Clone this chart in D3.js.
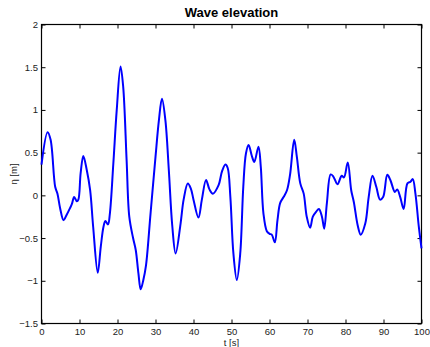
<!DOCTYPE html>
<html>
<head>
  <meta charset="UTF-8">
  <style>
    body { margin: 0; background: #fff; }
    text { font-family: "Liberation Sans", Arial, sans-serif; }
  </style>
</head>
<body>
<svg></svg>
<script src="https://d3js.org/d3.v7.min.js"></script>
<script>
let width = 430, height = 347;

// wave elevation samples
var time = [0, 1.6, 2.4, 3.6, 4.2, 4.9, 5.8, 6.6, 7.5, 8, 8.6, 9.3, 9.7, 10.3, 11.0, 11.9, 12.8, 13.6, 14.8, 15.6,
  16.3, 16.8, 17.5, 18.0, 18.9, 19.8, 20.8, 21.5, 22.4, 23.1, 24.1, 24.8, 25.5, 26.1, 26.8, 27.5, 28.7, 30, 30.9,
  31.7, 32.6, 33.5, 34.4, 35.3, 36.6, 37.4, 38.5, 39.3, 40.0, 41.3, 42.2, 43.3, 44.2, 45.1, 46.6, 47.5, 48.4, 49,
  49.7, 50.5, 51.4, 52.3, 53.1, 53.8, 54.5, 55.3, 56.0, 57.1, 57.7, 58.4, 59.3, 60, 60.6, 61.4, 62.1, 62.8, 63.7,
  64.6, 65.4, 66.5, 67.2, 68.1, 69, 69.8, 70.7, 71.4, 72.3, 73.0, 73.8, 74.4, 75.1, 76.1, 76.8, 77.9, 79.0, 79.6,
  80.6, 81.5, 82.2, 83.2, 84.0, 85.2, 86.1, 87.1, 88.1, 89.1, 89.9, 91.0, 91.8, 93.0, 93.6, 94.4, 95.3, 96.3, 97.1,
  97.7, 98.4, 99.3, 100];
var eta = [0.36, 0.74, 0.65, 0.10, 0.02, -0.15, -0.29, -0.23, -0.15, -0.1, -0.02, -0.07, -0.05, 0.26, 0.46, 0.30, 0.06, -0.37, -0.906, -0.60,
  -0.37, -0.30, -0.34, -0.21, 0.37, 1.0, 1.508, 1.27, 0.41, -0.25, -0.50, -0.64, -0.91, -1.10, -0.99, -0.82, -0.21, 0.45, 0.88,
  1.13, 0.88, 0.30, -0.35, -0.68, -0.33, -0.05, 0.14, 0.08, -0.05, -0.26, -0.05, 0.18, 0.07, 0.02, 0.12, 0.28, 0.36, 0.32,
  -0.02, -0.68, -0.99, -0.68, 0.10, 0.49, 0.59, 0.47, 0.39, 0.57, 0.34, -0.21, -0.42, -0.45, -0.46, -0.55, -0.29, -0.09, -0.02,
  0.06, 0.24, 0.65, 0.45, 0.14, 0.02, -0.25, -0.38, -0.25, -0.19, -0.16, -0.25, -0.39, -0.09, 0.245, 0.22, 0.13, 0.23, 0.21,
  0.385, 0.06, -0.08, -0.35, -0.46, -0.33, -0.02, 0.23, 0.10, -0.05, -0.02, 0.24, 0.18, 0.04, 0.07, -0.02, -0.16, 0.14, 0.16,
  0.19, 0.02, -0.37, -0.62];
var xTicks = [0, 10, 20, 30, 40, 50, 60, 70, 80, 90, 100];
var yTicks = [-1.5, -1, -0.5, 0, 0.5, 1, 1.5, 2];

let svg = d3.select("svg")
    .attr("width", width)
    .attr("height", height);

let plotLeft = 41.5, plotRight = 421.5, plotTop = 24.5, plotBottom = 323.5;

var x = d3.scaleLinear().domain([0, 100]).range([plotLeft, plotRight]);
var y = d3.scaleLinear().domain([-1.5, 2]).range([plotBottom, plotTop]);

var fmt = d => String(d).replace("-", "\u2212");

// ticks on all four sides, pointing inward
svg.append("g")
    .attr("transform", "translate(0," + plotBottom + ")")
    .call(d3.axisBottom(x).tickValues(xTicks).tickSizeInner(-4).tickSizeOuter(0).tickPadding(4.5).tickFormat(fmt));
svg.append("g")
    .attr("transform", "translate(0," + plotTop + ")")
    .call(d3.axisTop(x).tickValues(xTicks).tickSizeInner(-4).tickSizeOuter(0).tickFormat(""));
svg.append("g")
    .attr("transform", "translate(" + plotLeft + ",0)")
    .call(d3.axisLeft(y).tickValues(yTicks).tickSizeInner(-4).tickSizeOuter(0).tickPadding(3.5).tickFormat(fmt));
svg.append("g")
    .attr("transform", "translate(" + plotRight + ",0)")
    .call(d3.axisRight(y).tickValues(yTicks).tickSizeInner(-4).tickSizeOuter(0).tickFormat(""));

svg.selectAll(".domain").remove();
svg.selectAll(".tick line").attr("stroke", "#000");
svg.selectAll(".tick text").attr("font-size", 9.5).attr("fill", "#222")
    .attr("font-family", "'Liberation Sans', Arial, sans-serif");

svg.append("rect")
    .attr("x", plotLeft).attr("y", plotTop)
    .attr("width", plotRight - plotLeft).attr("height", plotBottom - plotTop)
    .attr("fill", "none").attr("stroke", "#000").attr("stroke-width", 1.2);

var line = d3.line()
    .x((d, i) => x(time[i]))
    .y(d => y(d))
    .curve(d3.curveCatmullRom.alpha(0.5));

svg.append("path")
    .datum(eta)
    .attr("d", line)
    .attr("fill", "none")
    .attr("stroke", "#0000ff")
    .attr("stroke-width", 2);

svg.append("text")
    .attr("x", (plotLeft + plotRight) / 2).attr("y", 17)
    .attr("text-anchor", "middle")
    .attr("font-size", 13).attr("font-weight", "bold")
    .text("Wave elevation");

svg.append("text")
    .attr("x", (plotLeft + plotRight) / 2).attr("y", 345.5)
    .attr("text-anchor", "middle")
    .attr("font-size", 9.5).attr("fill", "#222")
    .text("t [s]");

svg.append("text")
    .attr("transform", "translate(17," + ((plotTop + plotBottom) / 2) + ") rotate(-90)")
    .attr("text-anchor", "middle")
    .attr("font-size", 9.5).attr("fill", "#222")
    .text("η [m]");
</script>
</body>
</html>
